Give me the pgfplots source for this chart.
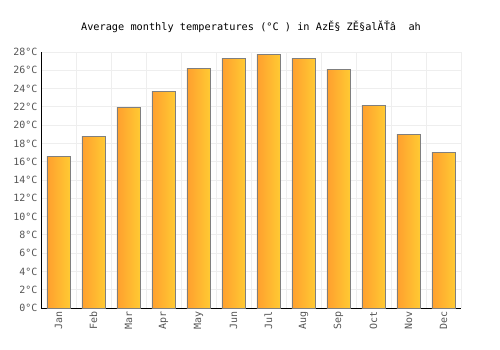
\documentclass[border=0pt]{standalone}
\usepackage{pgfplots}
\pgfplotsset{compat=1.18}
\usepackage{fontspec}
\setmainfont{DejaVu Sans Mono}
\setmonofont{DejaVu Sans Mono}
\definecolor{gridc}{HTML}{EEEEEE}
\definecolor{barl}{HTML}{FF9F2E}
\definecolor{barr}{HTML}{FFCA33}
\definecolor{edgec}{HTML}{7F7F7F}
\definecolor{tickc}{HTML}{555555}
\tikzset{mybar/.style={draw=edgec, line width=0.8bp, left color=barl, right color=barr}}
\begin{document}
\begin{tikzpicture}
\path[use as bounding box] (-41bp,-42bp) rectangle (459bp,308bp);
\begin{axis}[
  at={(0,0)}, anchor=south west,
  scale only axis,
  width=420bp, height=256bp,
  xmin=-0.5, xmax=11.5,
  ymin=0, ymax=28,
  ytick={0,2,...,28},
  yticklabel={\pgfmathprintnumber{\tick}°C},
  /pgf/number format/assume math mode=true,
  xtick={0,...,11},
  xticklabels={Jan,Feb,Mar,Apr,May,Jun,Jul,Aug,Sep,Oct,Nov,Dec},
  x tick label style={rotate=90, anchor=east, font=\fontsize{10}{10}\selectfont, text=tickc},
  y tick label style={font=\fontsize{10}{10}\selectfont, text=tickc},
  minor xtick={-0.5,0.5,...,11.5},
  xminorgrids=true, ymajorgrids=true,
  grid style={gridc, line width=0.8bp},
  minor grid style={gridc, line width=0.8bp},
  major tick length=0pt, minor tick length=0pt,
  axis lines=left,
  axis line style={-, black, line width=0.8bp},
  title={Average monthly temperatures (°C ) in AzĚ§ ZĚ§alĂŤâ\ \ ah},
  title style={font=\fontsize{10.3}{11}\selectfont, yshift=10bp},
  ybar, bar width=0.66, bar shift=0pt,
  clip=false,
]
\addplot[mybar] coordinates {(0,16.6)};
\addplot[mybar] coordinates {(1,18.8)};
\addplot[mybar] coordinates {(2,21.9)};
\addplot[mybar] coordinates {(3,23.7)};
\addplot[mybar] coordinates {(4,26.2)};
\addplot[mybar] coordinates {(5,27.3)};
\addplot[mybar] coordinates {(6,27.7)};
\addplot[mybar] coordinates {(7,27.3)};
\addplot[mybar] coordinates {(8,26.1)};
\addplot[mybar] coordinates {(9,22.2)};
\addplot[mybar] coordinates {(10,19.0)};
\addplot[mybar] coordinates {(11,17.0)};
\end{axis}
\end{tikzpicture}
\end{document}
